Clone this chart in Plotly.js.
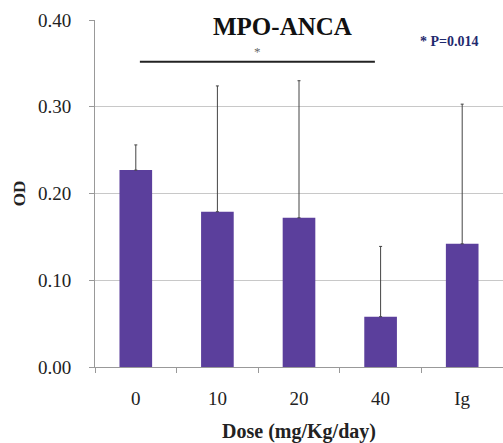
<!DOCTYPE html>
<html>
<head>
<meta charset="utf-8">
<script src="https://cdn.plot.ly/plotly-3.0.1.min.js"></script>
<style>html,body{margin:0;padding:0;background:#fff;}#chart{width:503px;height:443px;}</style>
</head>
<body>
<div id="chart"></div>
<script>
const doses = ["0", "10", "20", "40", "Ig"];
const odMeans = [0.227, 0.179, 0.172, 0.058, 0.142];
const odErrUp = [0.029, 0.145, 0.158, 0.081, 0.161];
const yTicks = [0, 0.1, 0.2, 0.3, 0.4];
const yTickLabels = ["0.00", "0.10", "0.20", "0.30", "0.40"];
const sigFrom = 0.05, sigTo = 2.93, sigY = 0.352;

const serif = "Liberation Serif, Times New Roman, serif";

const trace = {
  type: "bar",
  x: doses,
  y: odMeans,
  width: 0.4,
  marker: {color: "#5b3f9c", line: {width: 0}},
  error_y: {type: "data", symmetric: false, array: odErrUp, arrayminus: odErrUp.map(() => 0),
            color: "#444", thickness: 1, width: 1.5},
  hoverinfo: "skip"
};

const layout = {
  width: 503, height: 443,
  margin: {l: 95, r: 0, t: 20, b: 76},
  paper_bgcolor: "#fff", plot_bgcolor: "#fff",
  showlegend: false,
  xaxis: {
    type: "category", range: [-0.5, 4.5],
    tickson: "boundaries", ticks: "outside", ticklen: 5, tickcolor: "#999",
    showline: true, linecolor: "#999", linewidth: 1,
    showgrid: false, zeroline: false, ticklabelstandoff: 14,
    tickfont: {family: serif, size: 19, color: "#222"},
    title: {text: "<b>Dose (mg/Kg/day)</b>", font: {family: serif, size: 20, color: "#222"}, standoff: 17}
  },
  yaxis: {
    range: [0, 0.4], tickvals: yTicks, ticktext: yTickLabels,
    ticks: "outside", ticklen: 5, tickcolor: "#999",
    showline: true, linecolor: "#999", linewidth: 1,
    showgrid: true, gridcolor: "#c8c8c8", gridwidth: 1, zeroline: false, ticklabelstandoff: 14,
    tickfont: {family: serif, size: 19, color: "#222"},
    title: {text: "<b>OD</b>", font: {family: serif, size: 17, color: "#222"}, standoff: 8}
  },
  shapes: [
    {type: "line", xref: "x", yref: "y", x0: sigFrom, x1: sigTo, y0: sigY, y1: sigY,
     line: {color: "#222", width: 2}}
  ],
  annotations: [
    {text: "<b>MPO-ANCA</b>", xref: "paper", yref: "paper", x: 0.459, y: 0.982, xanchor: "center", yanchor: "middle",
     showarrow: false, font: {family: serif, size: 25, color: "#111"}},
    {text: "*", xref: "x", yref: "y", x: (sigFrom + sigTo) / 2, y: sigY + 0.012, showarrow: false,
     font: {family: serif, size: 13, color: "#666"}},
    {text: "<b>* P=0.014</b>", xref: "paper", yref: "paper", x: 0.87, y: 0.937, xanchor: "center", yanchor: "middle",
     showarrow: false, font: {family: serif, size: 14, color: "#1f2a6e"}}
  ]
};

Plotly.newPlot("chart", [trace], layout, {displayModeBar: false, staticPlot: true});
</script>
</body>
</html>
